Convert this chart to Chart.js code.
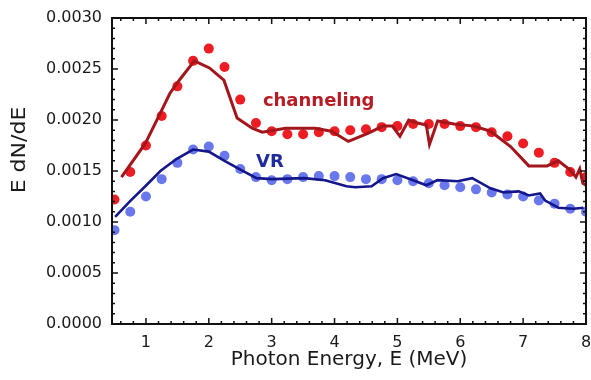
<!DOCTYPE html>
<html>
<head>
<meta charset="utf-8">
<script src="https://cdn.jsdelivr.net/npm/chart.js@4.4.1/dist/chart.umd.min.js"></script>
<style>
  html, body { margin: 0; padding: 0; background: #fff; }
  #wrap { width: 591px; height: 380px; }
</style>
</head>
<body>
<div id="wrap"><canvas id="myChart" width="591" height="380"></canvas></div>
<script>
// measured points (dots) and simulation (lines), E dN/dE vs photon energy in MeV
const dotEnergy = [0.5, 0.75, 1.0, 1.25, 1.5, 1.75, 2.0, 2.25, 2.5, 2.75, 3.0, 3.25, 3.5, 3.75, 4.0, 4.25,
    4.5, 4.75, 5.0, 5.25, 5.5, 5.75, 6.0, 6.25, 6.5, 6.75, 7.0, 7.25, 7.5, 7.75, 8.0];
const channelingDots = [0.00122, 0.00149, 0.00175, 0.00204, 0.00233, 0.00258, 0.00270, 0.00252, 0.00220, 0.00197,
    0.00189, 0.00186, 0.00186, 0.00188, 0.00189, 0.00190, 0.00191, 0.00193, 0.00194, 0.00196, 0.00196, 0.00196,
    0.00194, 0.00193, 0.00188, 0.00184, 0.00177, 0.00168, 0.00158, 0.00149, 0.00144];
const vrDots = [0.00092, 0.00110, 0.00125, 0.00142, 0.00158, 0.00171, 0.00174, 0.00165, 0.00152, 0.00144,
    0.00141, 0.00142, 0.00144, 0.00145, 0.00145, 0.00144, 0.00142, 0.00142, 0.00141, 0.00140, 0.00138, 0.00136,
    0.00134, 0.00132, 0.00129, 0.00127, 0.00125, 0.00121, 0.00118, 0.00113, 0.00110];

const channelingLineE = [0.61, 0.99, 1.23, 1.38, 1.53, 1.77, 2.01, 2.24, 2.45, 2.69, 2.85, 3.22, 3.69, 3.95, 4.22,
    4.53, 4.77, 4.92, 5.04, 5.18, 5.32, 5.46, 5.51, 5.64, 5.90, 6.22, 6.48, 6.80, 7.09, 7.38, 7.56, 7.75, 7.84,
    7.90, 7.95, 8.0];
const channelingLineY = [0.00144, 0.00177, 0.00207, 0.00226, 0.00239, 0.00258, 0.00251, 0.00239, 0.00202, 0.00192,
    0.00188, 0.00192, 0.00192, 0.00189, 0.00179, 0.00187, 0.00194, 0.00194, 0.00184, 0.00200, 0.00197, 0.00195,
    0.00176, 0.00199, 0.00196, 0.00194, 0.00189, 0.00174, 0.00155, 0.00155, 0.00160, 0.00151, 0.00144, 0.00152,
    0.00138, 0.00136];
const vrLineE = [0.51, 0.74, 0.99, 1.23, 1.49, 1.75, 2.0, 2.25, 2.51, 2.76, 3.01, 3.52, 3.85, 4.19, 4.33, 4.59,
    4.77, 4.98, 5.25, 5.46, 5.64, 5.96, 6.19, 6.48, 6.69, 6.93, 7.09, 7.27, 7.35, 7.56, 7.80, 7.96];
const vrLineY = [0.00105, 0.00120, 0.00135, 0.00150, 0.00162, 0.00171, 0.00169, 0.00160, 0.00151, 0.00143, 0.00142,
    0.00143, 0.00141, 0.00135, 0.00134, 0.00135, 0.00143, 0.00147, 0.00141, 0.00136, 0.00141, 0.00140, 0.00143,
    0.00133, 0.00129, 0.00130, 0.00126, 0.00128, 0.00121, 0.00114, 0.00113, 0.00114];

const xTicks = [1, 2, 3, 4, 5, 6, 7, 8];
const yTicks = [0, 0.0005, 0.0010, 0.0015, 0.0020, 0.0025, 0.0030];

const pts = (xs, ys) => xs.map((v, i) => ({ x: v, y: ys[i] }));

Chart.defaults.font.family = 'DejaVu Sans';
Chart.defaults.color = '#1a1a1a';

// box frame with inward ticks, axis title and curve labels
const framePlugin = {
    id: 'frame',
    afterDatasetsDraw(chart) {
        const { ctx, chartArea: a, scales: { x, y } } = chart;
        ctx.save();
        ctx.strokeStyle = '#111';
        ctx.lineWidth = 1.5;
        ctx.beginPath();
        for (let i = 3; i <= 40; i++) {
            const v = i / 5;
            if (v < x.min) continue;
            const px = x.getPixelForValue(v);
            const len = i % 5 === 0 ? 6 : 3;
            ctx.moveTo(px, a.bottom); ctx.lineTo(px, a.bottom - len);
            ctx.moveTo(px, a.top); ctx.lineTo(px, a.top + len);
        }
        for (let i = 1; i < 30; i++) {
            const py = y.getPixelForValue(i / 10000);
            const len = i % 5 === 0 ? 6 : 3;
            ctx.moveTo(a.left, py); ctx.lineTo(a.left + len, py);
            ctx.moveTo(a.right, py); ctx.lineTo(a.right - len, py);
        }
        ctx.stroke();
        ctx.lineWidth = 2;
        ctx.strokeRect(a.left, a.top, a.right - a.left, a.bottom - a.top);

        ctx.font = 'bold 18px "DejaVu Sans"';
        ctx.textBaseline = 'alphabetic';
        ctx.fillStyle = '#b71c24';
        ctx.fillText('channeling', x.getPixelForValue(2.86), y.getPixelForValue(0.002137));
        ctx.fillStyle = '#1f2b9e';
        ctx.fillText('VR', x.getPixelForValue(2.75), y.getPixelForValue(0.001536));

        ctx.translate(20, 150);
        ctx.rotate(-Math.PI / 2);
        ctx.scale(1, 0.85);
        ctx.font = '22px "DejaVu Sans"';
        ctx.fillStyle = '#1a1a1a';
        ctx.textAlign = 'center';
        ctx.textBaseline = 'middle';
        ctx.fillText('E dN/dE', 0, 0);
        ctx.restore();
    }
};

const ctx = document.getElementById('myChart').getContext('2d');
const myChart = new Chart(ctx, {
    type: 'line',
    data: {
        datasets: [{
            label: 'channeling sim',
            data: pts(channelingLineE, channelingLineY),
            borderColor: '#a3161c',
            borderWidth: 3,
            pointRadius: 0,
            tension: 0,
            order: 0
        }, {
            label: 'VR sim',
            data: pts(vrLineE, vrLineY),
            borderColor: '#14168c',
            borderWidth: 2.6,
            pointRadius: 0,
            tension: 0,
            order: 0
        }, {
            label: 'channeling',
            data: pts(dotEnergy, channelingDots),
            showLine: false,
            pointRadius: 5,
            pointBorderWidth: 0,
            pointBackgroundColor: '#ee1d23',
            order: 1
        }, {
            label: 'VR',
            data: pts(dotEnergy, vrDots),
            showLine: false,
            pointRadius: 5,
            pointBorderWidth: 0,
            pointBackgroundColor: '#6a78ee',
            order: 1
        }]
    },
    options: {
        responsive: false,
        animation: false,
        layout: { padding: { top: 18, right: 1, left: 0, bottom: 0 } },
        plugins: { legend: { display: false }, tooltip: { enabled: false } },
        scales: {
            x: {
                type: 'linear',
                min: 0.46,
                max: 8,
                grid: { display: false, drawTicks: false },
                border: { display: false },
                afterBuildTicks: s => { s.ticks = xTicks.map(v => ({ value: v })); },
                ticks: { padding: 9, autoSkip: false, maxRotation: 0, font: { size: 16 } },
                title: {
                    display: true,
                    text: 'Photon Energy, E (MeV)',
                    font: { size: 20 },
                    padding: { top: 0, bottom: 8 }
                },
                afterFit: s => { s.height = 56; s.paddingLeft = 0; s.paddingRight = 0; }
            },
            y: {
                type: 'linear',
                min: 0,
                max: 0.003,
                grid: { display: false, drawTicks: false },
                border: { display: false },
                afterBuildTicks: s => { s.ticks = yTicks.map(v => ({ value: v })); },
                ticks: { padding: 10, font: { size: 16 }, callback: v => v.toFixed(4) },
                afterFit: s => { s.width = 112; s.paddingTop = 0; s.paddingBottom = 0; }
            }
        }
    },
    plugins: [framePlugin]
});
</script>
</body>
</html>
